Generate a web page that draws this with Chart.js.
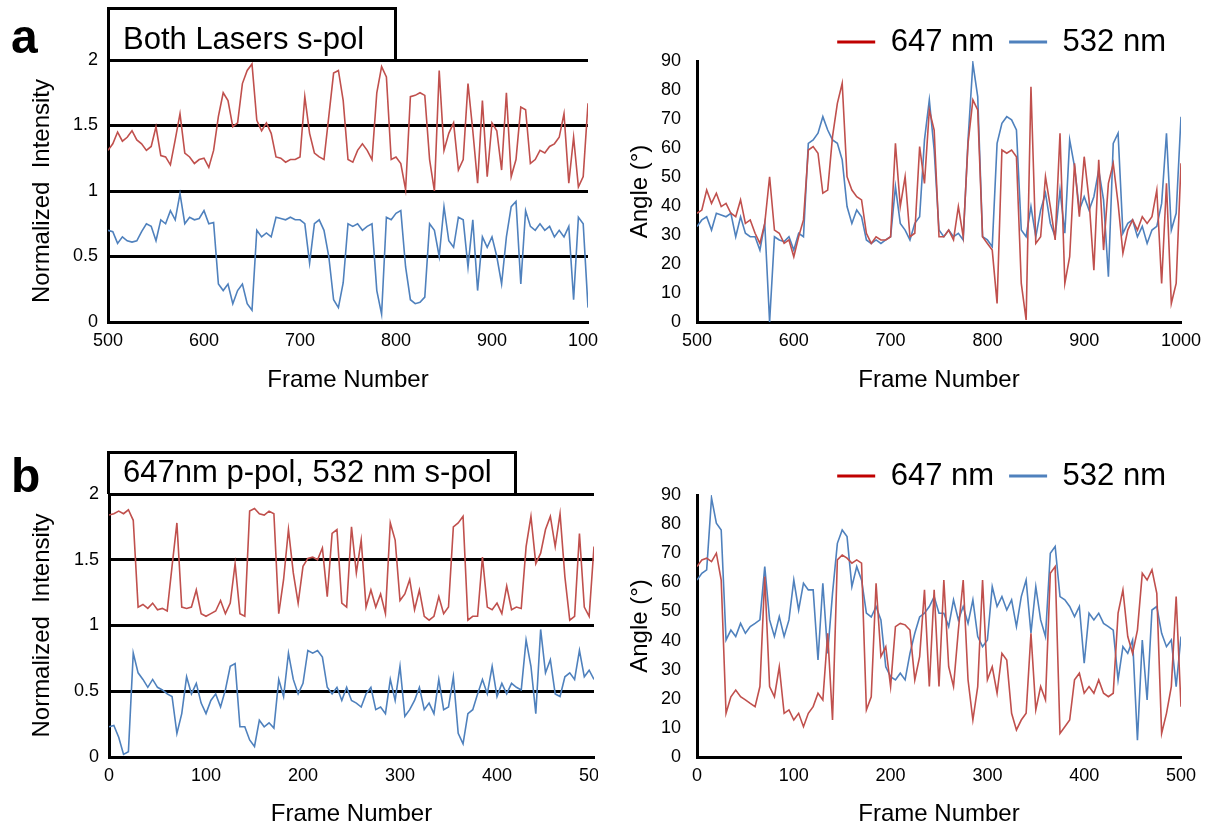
<!DOCTYPE html>
<html>
<head>
<meta charset="utf-8">
<script src="https://cdn.jsdelivr.net/npm/chart.js@4.4.0/dist/chart.umd.min.js"></script>
<style>
  html, body { margin: 0; padding: 0; background: #fff; }
  #page { position: relative; width: 1214px; height: 829px; overflow: hidden;
          font-family: "Liberation Sans", Arial, sans-serif; color: #000; }
  .panel { position: absolute; overflow: hidden; }
  .panel canvas { position: absolute; left: 0; top: 0; }
  .tag { position: absolute; font-weight: bold; font-size: 48px; line-height: 48px; }
  .title-box { position: absolute; box-sizing: border-box; border: 3px solid #000; border-bottom: none; }
  .title-text { position: absolute; font-size: 31px; line-height: 31px; white-space: nowrap; }
</style>
</head>
<body>
<div id="page">
  <div class="panel" style="left:0;top:0;width:598px;height:415px"><canvas id="intensityA" width="640" height="415"></canvas></div>
  <div class="panel" style="left:598px;top:0;width:616px;height:415px"><canvas id="angleA" width="616" height="415"></canvas></div>
  <div class="panel" style="left:0;top:434px;width:598px;height:395px"><canvas id="intensityB" width="640" height="395"></canvas></div>
  <div class="panel" style="left:598px;top:434px;width:616px;height:395px"><canvas id="angleB" width="616" height="395"></canvas></div>

  <div class="tag" style="left:11px;top:13px">a</div>
  <div class="tag" style="left:11px;top:452px">b</div>
  <div class="title-box" style="left:107px;top:7px;width:290px;height:53px"></div>
  <div class="title-text" style="left:123px;top:22.7px">Both Lasers s-pol</div>
  <div class="title-box" style="left:107px;top:451px;width:410px;height:43px"></div>
  <div class="title-text" style="left:123px;top:455.7px">647nm p-pol, 532 nm s-pol</div>
</div>

<script>
// ---- frame numbers ----
const framesA = [
  500,505,510,515,520,525,530,535,540,545,
  550,555,560,565,570,575,580,585,590,595,
  600,605,610,615,620,625,630,635,640,645,
  650,655,660,665,670,675,680,685,690,695,
  700,705,710,715,720,725,730,735,740,745,
  750,755,760,765,770,775,780,785,790,795,
  800,805,810,815,820,825,830,835,840,845,
  850,855,860,865,870,875,880,885,890,895,
  900,905,910,915,920,925,930,935,940,945,
  950,955,960,965,970,975,980,985,990,995,
  1000
];
const framesB = [
  0,5,10,15,20,25,30,35,40,45,
  50,55,60,65,70,75,80,85,90,95,
  100,105,110,115,120,125,130,135,140,145,
  150,155,160,165,170,175,180,185,190,195,
  200,205,210,215,220,225,230,235,240,245,
  250,255,260,265,270,275,280,285,290,295,
  300,305,310,315,320,325,330,335,340,345,
  350,355,360,365,370,375,380,385,390,395,
  400,405,410,415,420,425,430,435,440,445,
  450,455,460,465,470,475,480,485,490,495,
  500
];

// ---- a: both lasers s-pol ----
const intensity647A = [
  1.31,1.36,1.45,1.38,1.41,1.46,1.39,1.36,1.31,1.34,
  1.49,1.27,1.26,1.20,1.39,1.59,1.29,1.26,1.21,1.24,
  1.25,1.18,1.31,1.57,1.75,1.69,1.49,1.52,1.82,1.92,
  1.97,1.54,1.46,1.52,1.44,1.26,1.25,1.22,1.24,1.24,
  1.26,1.72,1.44,1.29,1.26,1.24,1.57,1.90,1.92,1.69,
  1.24,1.22,1.31,1.36,1.31,1.24,1.75,1.95,1.87,1.24,
  1.26,1.21,1.01,1.72,1.73,1.75,1.73,1.24,1.00,1.92,
  1.31,1.44,1.52,1.16,1.24,1.82,1.46,1.06,1.69,1.11,
  1.52,1.46,1.16,1.75,1.11,1.24,1.64,1.62,1.21,1.24,
  1.31,1.29,1.34,1.36,1.41,1.59,1.06,1.41,1.03,1.11,
  1.67
];
const intensity532A = [
  0.70,0.69,0.60,0.65,0.62,0.61,0.62,0.69,0.75,0.73,
  0.62,0.78,0.75,0.85,0.78,0.98,0.75,0.80,0.78,0.79,
  0.85,0.75,0.76,0.29,0.24,0.29,0.14,0.24,0.29,0.14,
  0.09,0.70,0.65,0.68,0.65,0.80,0.79,0.78,0.80,0.78,
  0.78,0.75,0.45,0.75,0.78,0.70,0.50,0.17,0.11,0.30,
  0.75,0.73,0.75,0.70,0.73,0.75,0.24,0.06,0.80,0.78,
  0.83,0.85,0.42,0.17,0.14,0.15,0.19,0.75,0.70,0.50,
  0.88,0.62,0.57,0.80,0.78,0.42,0.78,0.24,0.65,0.57,
  0.65,0.50,0.29,0.65,0.88,0.92,0.29,0.85,0.73,0.70,
  0.75,0.70,0.73,0.65,0.70,0.65,0.73,0.17,0.80,0.75,
  0.11
];
const angle647A = [
  37.5,38.6,45.5,40.9,44.4,39.8,40.9,37.5,36.3,42.1,
  34.0,35.2,30.6,27.1,34.0,50.1,31.7,30.6,27.1,28.3,
  22.5,29.4,35.2,59.3,60.5,58.2,44.4,45.5,63.9,75.4,
  82.3,50.1,45.5,43.2,42.1,30.6,27.1,29.4,28.3,28.3,
  29.4,61.6,39.8,50.1,29.4,30.6,60.5,47.8,73.1,66.2,
  29.4,29.4,31.7,28.3,39.8,29.4,61.6,76.6,73.1,29.4,
  27.1,24.8,6.4,59.3,58.2,59.3,57.0,13.3,0.7,81.1,
  27.1,29.4,50.1,39.8,28.3,65.1,13.3,22.5,54.7,36.3,
  57.0,42.1,17.9,55.9,24.8,47.8,54.7,40.9,23.7,31.7,
  35.2,31.7,36.3,34.0,36.3,45.5,13.3,47.8,6.4,13.3,
  54.7
];
const angle532A = [
  32.9,35.2,36.3,31.7,37.5,36.9,36.3,37.5,29.4,36.3,
  30.6,29.4,29.4,24.8,34.0,0.0,29.4,28.3,27.7,29.4,
  24.8,30.6,29.4,61.6,62.8,65.1,70.8,66.2,62.8,61.6,
  55.9,39.8,34.0,38.6,36.3,28.3,27.1,28.3,27.1,28.3,
  29.4,46.7,34.0,31.7,28.3,34.0,36.3,62.8,76.6,59.3,
  31.7,29.4,31.7,29.4,30.6,28.3,62.8,89.2,77.7,29.4,
  28.3,26.0,61.6,68.5,70.8,69.7,66.2,31.7,29.4,39.8,
  29.4,38.6,44.4,34.0,29.4,45.5,30.6,62.8,53.6,38.6,
  43.2,38.6,43.2,52.4,42.1,15.6,61.6,65.1,30.6,34.0,
  35.2,29.4,33.0,27.1,31.7,33.0,40.9,65.1,31.7,37.5,
  70.8
];

// ---- b: 647 nm p-pol, 532 nm s-pol ----
const intensity647B = [
  1.84,1.85,1.87,1.85,1.88,1.80,1.14,1.16,1.13,1.17,
  1.12,1.13,1.11,1.45,1.78,1.14,1.13,1.14,1.27,1.09,
  1.07,1.09,1.11,1.19,1.09,1.17,1.47,1.09,1.07,1.87,
  1.89,1.85,1.84,1.87,1.85,1.09,1.35,1.73,1.40,1.17,
  1.45,1.51,1.52,1.50,1.59,1.22,1.70,1.73,1.17,1.14,
  1.75,1.40,1.65,1.14,1.27,1.14,1.24,1.09,1.78,1.65,
  1.19,1.24,1.35,1.12,1.27,1.07,1.04,1.07,1.22,1.09,
  1.14,1.75,1.78,1.83,1.04,1.07,1.07,1.52,1.14,1.12,
  1.17,1.09,1.30,1.12,1.14,1.13,1.60,1.83,1.47,1.55,
  1.73,1.83,1.60,1.85,1.37,1.04,1.07,1.70,1.14,1.07,
  1.60
];
const intensity532B = [
  0.23,0.24,0.15,0.02,0.04,0.79,0.64,0.59,0.53,0.59,
  0.53,0.51,0.48,0.46,0.18,0.33,0.61,0.48,0.56,0.41,
  0.33,0.43,0.48,0.38,0.51,0.69,0.71,0.23,0.23,0.13,
  0.08,0.28,0.23,0.26,0.22,0.59,0.46,0.79,0.59,0.48,
  0.56,0.81,0.79,0.81,0.76,0.53,0.48,0.53,0.43,0.53,
  0.43,0.41,0.38,0.48,0.53,0.36,0.38,0.33,0.59,0.43,
  0.69,0.31,0.36,0.43,0.53,0.36,0.41,0.33,0.59,0.36,
  0.38,0.61,0.18,0.10,0.33,0.36,0.48,0.59,0.48,0.69,
  0.46,0.56,0.48,0.56,0.53,0.51,0.89,0.69,0.33,0.97,
  0.64,0.74,0.48,0.46,0.61,0.64,0.59,0.81,0.61,0.66,
  0.59
];
const angle647B = [
  65.4,67.7,68.3,67.1,70.0,60.8,15.0,20.7,23.0,20.7,
  19.6,18.4,17.3,24.2,62.0,24.2,20.7,31.0,15.0,16.2,
  12.7,15.0,10.4,15.0,17.3,21.9,19.6,42.5,12.7,67.7,
  69.4,68.3,66.6,67.7,66.6,16.2,20.7,59.7,34.5,37.9,
  24.2,44.8,45.9,45.4,43.6,26.5,34.5,57.4,24.2,57.4,
  24.2,60.8,31.0,24.2,43.6,60.8,26.5,12.7,24.2,60.8,
  26.5,31.0,21.9,35.6,33.3,15.0,9.3,12.7,15.0,42.5,
  16.2,24.2,19.6,63.1,65.4,8.1,10.4,12.7,26.5,28.8,
  21.9,24.2,21.9,26.5,21.9,20.7,21.9,49.4,57.4,41.4,
  35.6,43.6,63.1,60.8,64.3,56.2,8.1,15.0,24.2,55.1,
  17.3
];
const angle532B = [
  60.8,63.1,64.3,89.0,80.3,78.0,40.2,43.6,41.4,45.9,
  42.5,44.8,45.9,47.1,65.4,47.1,41.4,48.2,41.4,47.1,
  60.8,50.5,59.7,57.4,57.4,33.3,59.7,35.6,56.2,73.4,
  78.0,75.7,58.5,65.4,60.8,49.4,48.1,51.7,47.1,31.0,
  27.6,26.5,28.8,26.5,35.6,42.5,48.1,49.4,51.7,55.1,
  49.4,49.4,44.8,54.0,47.1,51.7,45.9,54.0,41.4,37.9,
  40.2,58.5,51.7,55.1,50.5,54.0,44.8,55.1,60.8,42.5,
  58.5,47.1,41.4,70.0,72.3,55.1,54.0,51.7,48.2,51.7,
  32.2,49.4,47.1,49.4,45.9,44.8,43.6,26.5,37.9,35.6,
  40.2,5.8,40.2,19.6,50.5,51.7,42.5,37.9,40.2,24.2,
  41.4
];

// ---- tick / axis settings ----
const intensityTicks = { min: 0, max: 2, step: 0.5 };
const angleTicks = { min: 0, max: 90, step: 10 };
const seriesNames = ['647 nm', '532 nm'];

// ---- styling ----
const RED = '#C0504D';
const BLUE = '#4F81BD';
const LEGEND_RED = '#C00000';
const LEGEND_BLUE = '#4F81BD';

Chart.defaults.font.family = '"Liberation Sans", Arial, sans-serif';
Chart.defaults.color = '#000';

function points(frames, values) {
  return frames.map((f, i) => ({ x: f, y: values[i] }));
}

function makeChart(canvasId, cfg) {
  const { frames, red, blue, xMin, xMax, yRange, yTitle, grid, legend, pad, yWidth, xHeight, yTickPad } = cfg;
  new Chart(document.getElementById(canvasId), {
    type: 'line',
    data: {
      datasets: [
        { label: seriesNames[0], data: points(frames, red), borderColor: RED, legendColor: LEGEND_RED,
          borderWidth: 1.6, pointRadius: 0, tension: 0, fill: false },
        { label: seriesNames[1], data: points(frames, blue), borderColor: BLUE, legendColor: LEGEND_BLUE,
          borderWidth: 1.6, pointRadius: 0, tension: 0, fill: false }
      ]
    },
    options: {
      responsive: false,
      animation: false,
      devicePixelRatio: 1,
      events: [],
      layout: { padding: pad },
      plugins: {
        tooltip: { enabled: false },
        legend: legend ? {
          display: true, position: 'top', align: 'end', maxHeight: legend.height,
          labels: {
            boxWidth: 38, boxHeight: 3, padding: 15, font: { size: 31 }, color: '#000',
            generateLabels: (chart) => chart.data.datasets.map((ds, i) => ({
              text: ds.label, fillStyle: ds.legendColor, strokeStyle: ds.legendColor,
              lineWidth: 0, hidden: false, datasetIndex: i
            }))
          }
        } : { display: false }
      },
      scales: {
        x: {
          type: 'linear', min: xMin, max: xMax,
          ticks: { stepSize: 100, autoSkip: false, maxRotation: 0, padding: 8,
                   font: { size: 18 }, color: '#000', callback: (v) => String(v) },
          grid: { display: false, drawTicks: false },
          border: { display: true, color: '#000', width: 3 },
          title: { display: true, text: 'Frame Number', font: { size: 24 }, color: '#000', padding: 0 },
          afterFit: (s) => { s.height = xHeight; s.paddingLeft = 0; s.paddingRight = 0; }
        },
        y: {
          type: 'linear', min: yRange.min, max: yRange.max,
          ticks: { stepSize: yRange.step, padding: yTickPad, font: { size: 18 }, color: '#000',
                   callback: (v) => String(v) },
          grid: grid ? { display: true, color: '#000', lineWidth: 3, drawTicks: false }
                     : { display: false, drawTicks: false },
          border: { display: true, color: '#000', width: 3 },
          title: { display: true, text: yTitle, font: { size: 24 }, color: '#000', padding: { top: 27.6, bottom: 0 } },
          afterFit: (s) => { s.width = yWidth; s.paddingTop = 0; s.paddingBottom = 0; }
        }
      }
    }
  });
}

makeChart('intensityA', {
  frames: framesA, red: intensity647A, blue: intensity532A, xMin: 500, xMax: 1000,
  yRange: intensityTicks, yTitle: 'Normalized  Intensity', grid: true, legend: null,
  pad: { left: 0, top: 60, right: 52, bottom: 20.6 }, yWidth: 108, xHeight: 72.4, yTickPad: 10
});
makeChart('angleA', {
  frames: framesA, red: angle647A, blue: angle532A, xMin: 500, xMax: 1000,
  yRange: angleTicks, yTitle: 'Angle (°)', grid: false, legend: { height: 49.5 },
  pad: { left: 0, top: 11.5, right: 33, bottom: 20.6 }, yWidth: 99, xHeight: 72.4, yTickPad: 16
});
makeChart('intensityB', {
  frames: framesB, red: intensity647B, blue: intensity532B, xMin: 0, xMax: 500,
  yRange: intensityTicks, yTitle: 'Normalized  Intensity', grid: true, legend: null,
  pad: { left: 0, top: 60, right: 46, bottom: 0 }, yWidth: 109, xHeight: 72, yTickPad: 10
});
makeChart('angleB', {
  frames: framesB, red: angle647B, blue: angle532B, xMin: 0, xMax: 500,
  yRange: angleTicks, yTitle: 'Angle (°)', grid: false, legend: { height: 49.5 },
  pad: { left: 0, top: 11.5, right: 33, bottom: 0 }, yWidth: 99, xHeight: 72, yTickPad: 16
});
</script>
</body>
</html>
